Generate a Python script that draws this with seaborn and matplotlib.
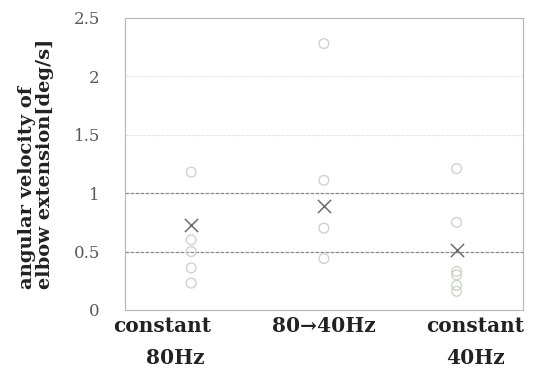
import matplotlib
matplotlib.use("Agg")
import matplotlib.pyplot as plt
import matplotlib.transforms as mtransforms
import seaborn as sns
import pandas as pd

categories = ["constant\n80Hz", "80\u219240Hz", "constant\n40Hz"]
tick_texts = ["constant\n80Hz ", "80\u219240Hz", "constant\n40Hz"]
values_80 = [1.18, 0.60, 0.50, 0.36, 0.23]
values_80_40 = [2.28, 1.11, 0.70, 0.44]
values_40 = [1.21, 0.75, 0.33, 0.30, 0.21, 0.16]
means = [0.73, 0.89, 0.51]
y_ticks = [0, 0.5, 1, 1.5, 2, 2.5]
y_tick_labels = ["0", "0.5", "1", "1.5", "2", "2.5"]

rows = []
for cat, vals in zip(categories, [values_80, values_80_40, values_40]):
    for v in vals:
        rows.append({"condition": cat, "value": v})
df = pd.DataFrame(rows)
df_mean = pd.DataFrame({"condition": categories, "value": means})

sns.set_style("white")
plt.rcParams["font.family"] = ["DejaVu Serif"]

fig = plt.figure(figsize=(5.38, 3.73), dpi=100)
ax = fig.add_axes([0.232, 0.169, 0.740, 0.783])

for yv, c, lw in [(0.5, "#8a8a8a", 0.9), (1.0, "#8a8a8a", 0.9), (1.5, "#e8e8e8", 0.8), (2.0, "#e8e8e8", 0.8)]:
    ax.axhline(yv, color=c, lw=lw, ls=(0, (3, 1)), zorder=0)

sns.stripplot(data=df, x="condition", y="value", order=categories, ax=ax,
              jitter=False, marker="o", size=7, color="none",
              edgecolor="#cfd4ca", linewidth=1.0, zorder=2)
sns.scatterplot(data=df_mean, x="condition", y="value", ax=ax,
                marker="x", s=90, color="#6e6e6e", linewidth=1.1, zorder=3)

ax.set_xlim(-0.5, 2.5)
ax.set_ylim(0, 2.5)
ax.set_yticks(y_ticks)
ax.set_yticklabels(y_tick_labels, fontsize=12, color="#5a5a5a")
ax.set_xticks(range(len(categories)))
ax.set_xticklabels(tick_texts, fontsize=14.5, fontweight="bold", color="#222222",
                   linespacing=1.75)
ax.tick_params(axis="y", length=0, pad=18)
ax.tick_params(axis="x", length=0, pad=4)
shifts = [-29, 0, 19]
aligns = ["right", "center", "center"]
for lab, dx, al in zip(ax.get_xticklabels(), shifts, aligns):
    lab.set_transform(lab.get_transform() + mtransforms.ScaledTranslation(dx / 100, 0, fig.dpi_scale_trans))
    lab.set_multialignment(al)
ax.set_xlabel("")
ax.set_ylabel("angular velocity of\nelbow extension[deg/s]", fontsize=14,
              fontweight="bold", color="#222222", labelpad=14, linespacing=1.0,
              multialignment="left")
for s in ax.spines.values():
    s.set_color("#b5b5b5")
    s.set_linewidth(0.8)
    s.set_linestyle((0, (3, 1)))

fig.savefig("out.png", dpi=100)
